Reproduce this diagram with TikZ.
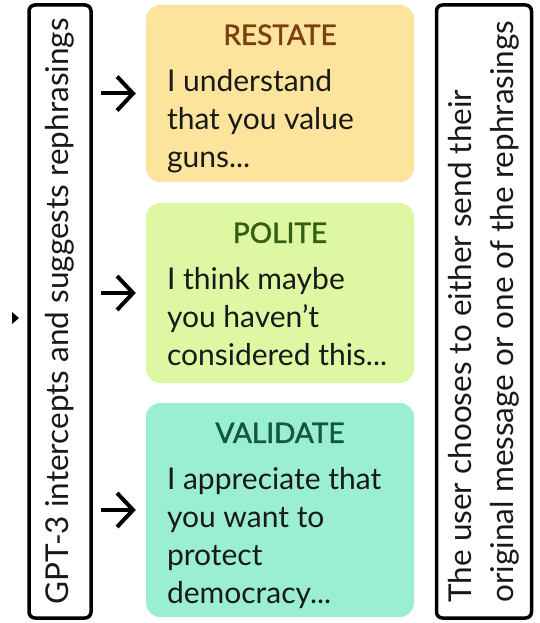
\documentclass[tikz,border=0pt]{standalone}
\usepackage{fontspec}
\setmainfont{Lato}
\newfontfamily\titlefont{Lato}[FakeBold=1.6]
\usetikzlibrary{arrows.meta,positioning,calc}

\definecolor{restatefill}{HTML}{FCE49C}
\definecolor{restatetext}{HTML}{7B3F12}
\definecolor{politefill}{HTML}{DDF7A3}
\definecolor{politetext}{HTML}{345F12}
\definecolor{validatefill}{HTML}{9AEFD0}
\definecolor{validatetext}{HTML}{14573F}

\tikzset{
  sidebox/.style={draw=black, line width=3.5pt, rounded corners=6pt, rotate=90,
    inner sep=0pt, text=black!90, font=\fontsize{31.5}{42}\selectfont, align=left},
  msgbox/.style={rounded corners=14pt, minimum width=268pt, inner sep=0pt},
  title/.style={anchor=base, inner sep=0pt, font=\titlefont\fontsize{28}{34}\selectfont},
  body/.style={anchor=north west, inner sep=0pt, align=left, text=black!90,
    font=\fontsize{30}{38}\selectfont},
  arr/.style={line width=4pt, -{Straight Barb[length=16pt,width=34pt,line width=4pt]}}
}

\begin{document}
\begin{tikzpicture}[x=1pt,y=-1pt]
            \useasboundingbox (0,0) rectangle (540,623);
            % side boxes
            \node[sidebox, minimum width=613pt, minimum height=62pt] (gpt) at (60,311.5)
                {GPT-3 intercepts and suggests rephrasings};
            \node[sidebox, minimum width=613pt, minimum height=95pt] (user) at (484,311.5)
                {The user chooses to either send their\\original message or one of the rephrasings};
            % rephrasings
            \node[msgbox, fill=restatefill, minimum height=177pt] (restate) at (280,93.5) {};
            \node[msgbox, fill=politefill, minimum height=180pt] (polite) at (280,293) {};
            \node[msgbox, fill=validatefill, minimum height=214pt] (validate) at (280,510) {};
            \node[title, text=restatetext] (restatetitle) at ([yshift=-40pt]restate.north) {RESTATE};
            \node[title, text=politetext] (politetitle) at ([yshift=-40pt]polite.north) {POLITE};
            \node[title, text=validatetext] (validatetitle) at ([yshift=-40pt]validate.north) {VALIDATE};
            \node[body] (restatebody) at ([xshift=21pt,yshift=-64pt]restate.north west)
                {I understand\\that you value\\guns...};
            \node[body] (politebody) at ([xshift=21pt,yshift=-64pt]polite.north west)
                {I think maybe\\you haven’t\\considered this...};
            \node[body] (validatebody) at ([xshift=21pt,yshift=-64pt]validate.north west)
                {I appreciate that\\you want to\\protect\\democracy...};
            % arrows
            \foreach \m in {restate,polite,validate}
                \draw[arr] ([xshift=8pt]gpt.south |- \m.west) -- ([xshift=-10pt]\m.west);
            \fill (12,312) -- (19,318) -- (12,324) -- cycle;
        \end{tikzpicture}
\end{document}
